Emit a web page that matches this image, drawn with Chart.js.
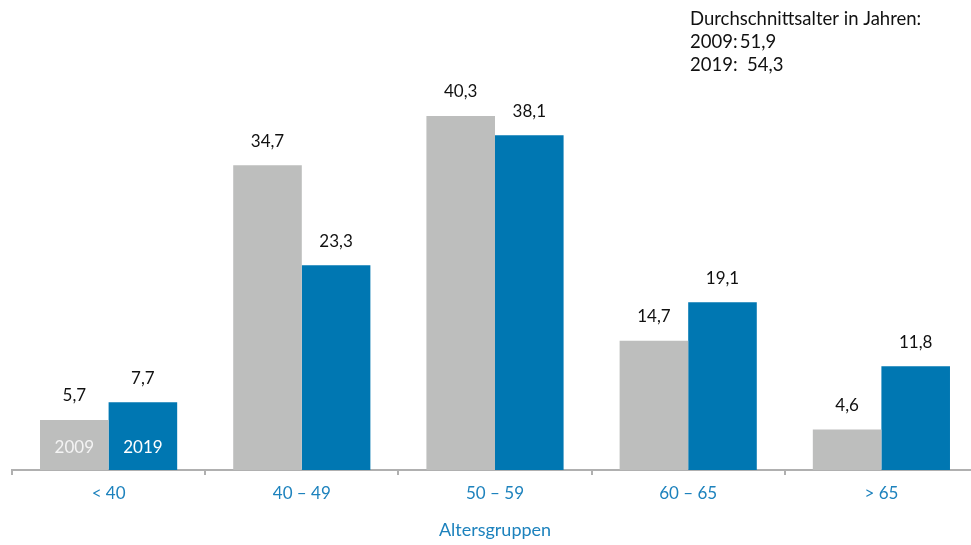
<!DOCTYPE html>
<html>
<head>
<meta charset="utf-8">
<script src="https://cdn.jsdelivr.net/npm/chart.js@4"></script>
<style>
  html, body { margin: 0; padding: 0; background: #fff; overflow: hidden; }
  #wrap { width: 978px; height: 545px; position: relative; }
</style>
</head>
<body>
<div id="wrap"><canvas id="c"></canvas></div>
<script>
var categories = ['< 40', '40 – 49', '50 – 59', '60 – 65', '> 65'];
var values2009 = [5.7, 34.7, 40.3, 14.7, 4.6];
var values2019 = [7.7, 23.3, 38.1, 19.1, 11.8];
var seriesNames = ['2009', '2019'];
var noteLines = ['Durchschnittsalter in Jahren:', '2009:\u200951,9', '2019:  54,3'];

var FONT = 'Lato, "Noto Sans", sans-serif';
var GREY = '#bdbebd', BLUE = '#0077b2', LABEL_BLUE = '#1d82bd';

function fmt(v) { return v.toFixed(1).replace('.', ','); }

var labelPlugin = {
  id: 'labels',
  afterDatasetsDraw: function (chart) {
    var ctx = chart.ctx;
    ctx.save();
    ctx.font = '17px ' + FONT;
    ctx.textAlign = 'center';
    ctx.textBaseline = 'middle';
    chart.data.datasets.forEach(function (ds, di) {
      chart.getDatasetMeta(di).data.forEach(function (bar, i) {
        ctx.fillStyle = '#111';
        ctx.fillText(fmt(ds.data[i]), bar.x, bar.y - 24);
      });
    });
    // series names inside first group
    seriesNames.forEach(function (name, di) {
      var bar = chart.getDatasetMeta(di).data[0];
      ctx.fillStyle = di === 0 ? '#f4f4f4' : '#fff';
      ctx.fillText(name, bar.x, 448);
    });
    // note at top right
    ctx.textAlign = 'left';
    ctx.fillStyle = '#111';
    ctx.font = '18.5px ' + FONT;
    noteLines.forEach(function (line, i) {
      ctx.fillText(line, 690, 19 + i * 23);
    });
    ctx.restore();
  }
};

new Chart(document.getElementById('c'), {
  type: 'bar',
  data: {
    labels: categories,
    datasets: [
      { label: seriesNames[0], data: values2009, backgroundColor: GREY },
      { label: seriesNames[1], data: values2019, backgroundColor: BLUE }
    ]
  },
  options: {
    responsive: true, maintainAspectRatio: false, animation: false,
    layout: { padding: { left: 12, right: 0, top: 0, bottom: 0 } },
    datasets: { bar: { categoryPercentage: 0.71, barPercentage: 1 } },
    plugins: { legend: { display: false }, tooltip: { enabled: false } },
    scales: {
      x: {
        grid: { drawOnChartArea: false, offset: true, color: '#b0b0b0', tickLength: 5, lineWidth: 2 },
        border: { color: '#b0b0b0', width: 2 },
        ticks: { color: LABEL_BLUE, font: { family: FONT, size: 17 }, padding: 8 },
        title: { display: true, text: 'Altersgruppen', color: LABEL_BLUE, font: { family: FONT, size: 18 }, padding: { top: 14 } },
        afterFit: function (scale) { scale.height = 75; }
      },
      y: { display: false, min: 0, max: 53.5 }
    }
  },
  plugins: [labelPlugin]
});
</script>
</body>
</html>
